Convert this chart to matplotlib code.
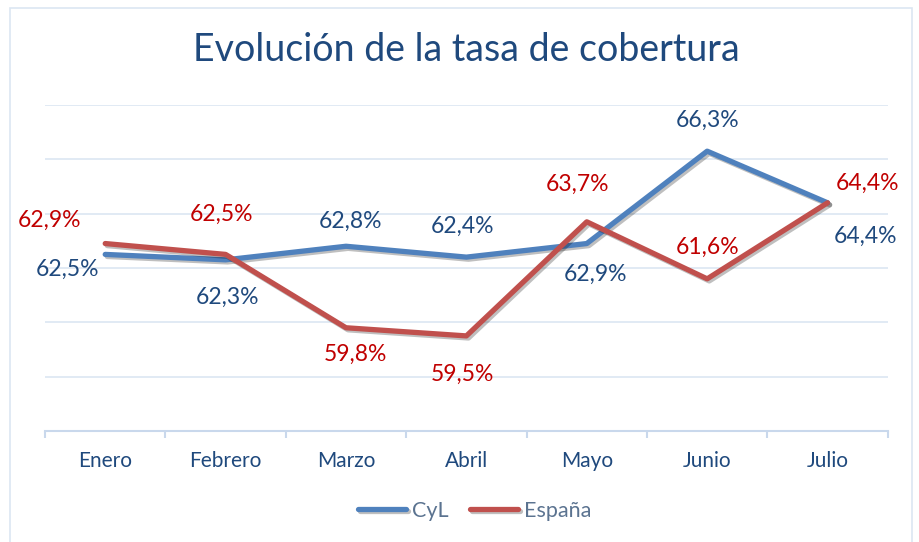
import matplotlib.pyplot as plt
import matplotlib.patheffects as pe
from matplotlib.patches import Rectangle

meses = ["Enero", "Febrero", "Marzo", "Abril", "Mayo", "Junio", "Julio"]
cyl = [62.5, 62.3, 62.8, 62.4, 62.9, 66.3, 64.4]
espana = [62.9, 62.5, 59.8, 59.5, 63.7, 61.6, 64.4]

# label offsets (points) for each data label
cyl_off = [(-27, -11), (1.5, -27), (3, 18), (-3, 22), (6, -22), (0, 22), (27, -24)]
esp_off = [(-40, 17), (-3, 29), (6.5, -19), (-3, -28), (-6.5, 27), (0, 23), (29, 14)]

azul = "#4F81BD"
rojo = "#C0504D"
azul_txt = "#1F497D"
rojo_txt = "#C00000"

plt.rcParams["font.family"] = ["Lato", "DejaVu Sans"]

fig = plt.figure(figsize=(9.19, 5.42), dpi=100)
fig.patches.append(Rectangle((0.011, -0.01), 0.981, 0.995, transform=fig.transFigure,
                             fill=False, edgecolor="#DCE6F2", lw=1.2))
ax = fig.add_axes([0.049, 0.2048, 0.917, 0.6015])

x = list(range(len(meses)))
shadow = [pe.SimpleLineShadow(offset=(1.5, -1.5), alpha=0.25), pe.Normal()]
ax.plot(x, cyl, color=azul, lw=3.8, solid_capstyle="round", label="CyL", path_effects=shadow, zorder=3)
ax.plot(x, espana, color=rojo, lw=3.8, solid_capstyle="round", label="España", path_effects=shadow, zorder=4)

for i, v in enumerate(cyl):
    ax.annotate(f"{v:.1f}%".replace(".", ","), (i, v), xytext=cyl_off[i], textcoords="offset points",
                ha="center", va="center", fontsize=16.5, color=azul_txt)
for i, v in enumerate(espana):
    ax.annotate(f"{v:.1f}%".replace(".", ","), (i, v), xytext=esp_off[i], textcoords="offset points",
                ha="center", va="center", fontsize=16.5, color=rojo_txt)

ax.set_xlim(-0.5, len(meses) - 0.5)
ax.set_ylim(56, 68)
ax.set_yticks(range(56, 69, 2))
ax.set_yticklabels([])
ax.tick_params(axis="y", length=0)
ax.grid(axis="y", color="#DCE6F2", lw=1.2)
ax.set_axisbelow(True)
for s in ["top", "right", "left"]:
    ax.spines[s].set_visible(False)
ax.spines["bottom"].set_color("#C9D8EC")
ax.spines["bottom"].set_linewidth(1.5)

ax.set_xticks([i - 0.5 for i in range(len(meses) + 1)], minor=False)
ax.set_xticklabels([])
ax.tick_params(axis="x", length=5, color="#C9D8EC", width=1.5)
for i, m in enumerate(meses):
    ax.text(i, -0.06, m, transform=ax.get_xaxis_transform(), ha="center", va="top",
            fontsize=15, color=azul_txt)

fig.text(0.508, 0.908, "Evolución de la tasa de cobertura", ha="center", va="center",
         fontsize=27, color=azul_txt)

leg = ax.legend(loc="center", bbox_to_anchor=(0.51, -0.245), ncol=2, frameon=False,
                fontsize=15.5, handlelength=2.2, columnspacing=1.0, handletextpad=0.3)
for t in leg.get_texts():
    t.set_color("#5B7390")

fig.savefig("out.png", dpi=100)
